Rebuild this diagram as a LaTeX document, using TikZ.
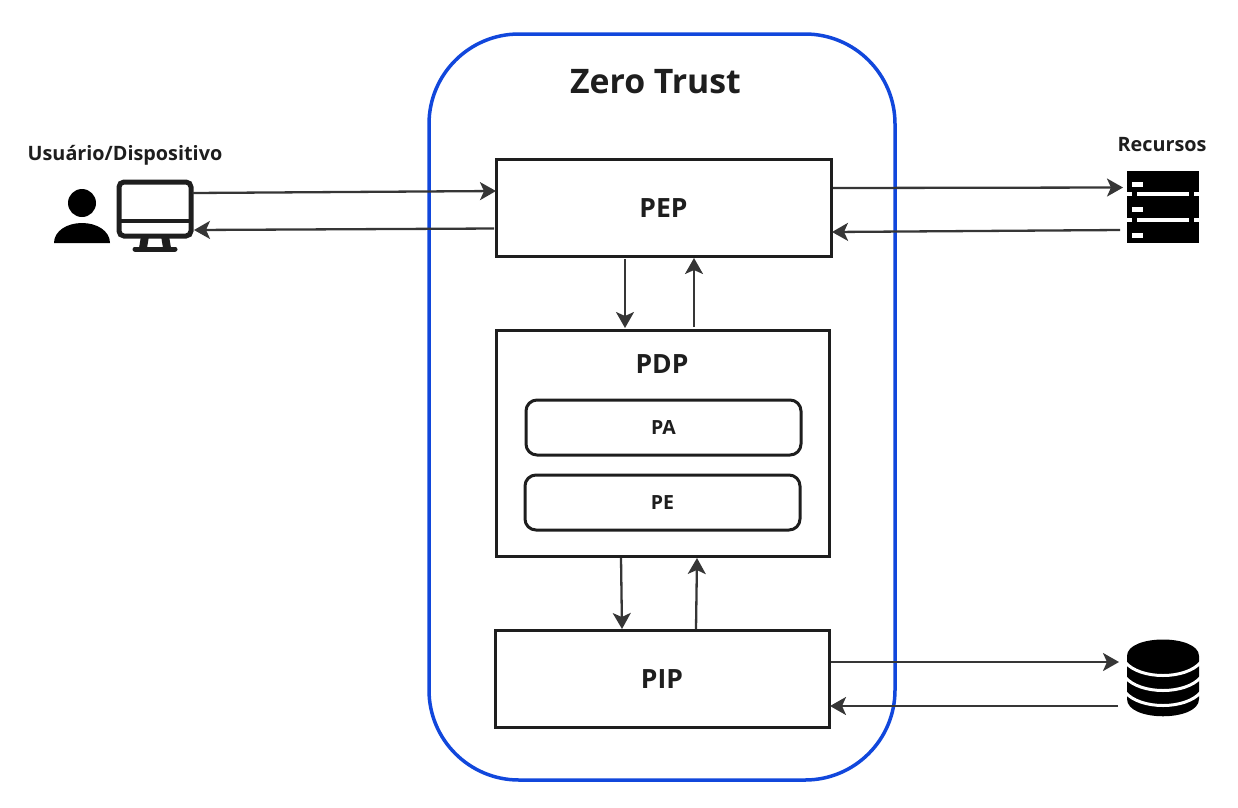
\documentclass[tikz,border=0pt]{standalone}
\usepackage{fontspec}
\setmainfont{Open Sans}
\usepackage{xcolor}
\usetikzlibrary{arrows.meta, positioning, calc}
\definecolor{ztblue}{HTML}{1147DC}
\definecolor{ztink}{HTML}{1E1E1E}
\definecolor{ztarrow}{HTML}{363636}
\tikzset{
  box/.style={draw=ztink, line width=3pt, fill=white, inner sep=0pt, outer sep=0pt, text=ztink, text height=19pt, text depth=0pt, font=\bfseries\fontsize{26.5}{30}\selectfont},
  subbox/.style={box, rounded corners=11pt, text height=14pt, font=\bfseries\fontsize{19.5}{22}\selectfont},
  label/.style={inner sep=0pt, text=ztink, font=\bfseries\fontsize{19.8}{24}\selectfont},
  flow/.style={draw=ztarrow, line width=2.3pt, -{Stealth[length=16pt,width=18pt,inset=4pt]}},
  icon/.style={inner sep=0pt, outer sep=0pt}
}
\begin{document}
\begin{tikzpicture}[x=1pt,y=-1pt]
\useasboundingbox (0,0) rectangle (1238,807);
\node[draw=ztblue, line width=3.5pt, rounded corners=90pt, minimum width=466pt, minimum height=746pt, inner sep=0pt] (zt) at (662,407) {};
\node[inner sep=0pt, text=ztink, font=\bfseries\fontsize{33.8}{40}\selectfont] (title) at (655.5,82) {Zero Trust};

\node[box, minimum width=335pt, minimum height=97pt] (pep) at (663.5,207.5) {PEP};
\node[box, minimum width=333pt, minimum height=226pt] (pdp) at (662.5,443) {};
\node[label, font=\bfseries\fontsize{26.5}{30}\selectfont] (pdplabel) at (662,364) {PDP};
\node[subbox, minimum width=275pt, minimum height=55pt] (pa) at (663.5,427.5) {PA};
\node[subbox, minimum width=275pt, minimum height=55pt] (pe) at (662.5,502.5) {PE};
\node[box, minimum width=334pt, minimum height=97pt] (pip) at (662,678.5) {PIP};

% user and screen
\node[label] (userlabel) at (125,155) {Usuário/Dispositivo};
\node[icon, circle, fill=black, minimum size=28pt] (userhead) at (82,203) {};
\fill[black] (54,243) .. controls (54,231) and (67,223) .. (82,223) .. controls (97,223) and (110,231) .. (110,243) -- cycle;
\node[icon, draw=ztink, line width=5pt, rounded corners=5pt, minimum width=72pt, minimum height=54pt] (screen) at (155,209) {};
\draw[ztink, line width=4.5pt] (118,221) -- (192,221);
\fill[ztink] (141,236) -- (149,236) -- (147,248) -- (139,248) -- cycle;
\fill[ztink] (161,236) -- (169,236) -- (171,248) -- (163,248) -- cycle;
\draw[ztink, line width=5pt, line cap=round] (135,249) -- (175,249);

% resources
\node[label] (reslabel) at (1162,145) {Recursos};
\node[icon, fill=black, minimum width=72pt, minimum height=72pt] (rack) at (1163,207) {};
\foreach \gapy in {194,220} {
  \fill[white] (1127,\gapy-2) rectangle (1132,\gapy+2);
  \fill[white] (1137,\gapy-2) rectangle (1189,\gapy+2);
  \fill[white] (1194,\gapy-2) rectangle (1199,\gapy+2);
}
\foreach \ledy in {184,209,235} {
  \fill[white] (1132,\ledy-2.5) rectangle (1143,\ledy+2.5);
}

% database
\node[icon, minimum width=72pt, minimum height=77pt] (db) at (1163,677.5) {};
\fill[black] (1127,656) .. controls (1127,634) and (1199,634) .. (1199,656) -- (1199,699) .. controls (1199,722) and (1127,722) .. (1127,699) -- cycle;
\foreach \bandy in {662,677,692} {
  \draw[white, line width=3pt] (1125,\bandy) .. controls (1140,\bandy+18) and (1186,\bandy+18) .. (1201,\bandy);
}

\draw[flow] ([yshift=16pt]screen.east) ++(1.5,0) -- ([yshift=16.5pt]pep.west);
\draw[flow] ([yshift=-21pt]pep.west) ++(-2,0) -- ([yshift=-21pt,xshift=3pt]screen.east);
\draw[flow] ([yshift=19.5pt,xshift=2pt]pep.east) -- ([yshift=19.5pt,xshift=-4pt]rack.west);
\draw[flow] ([yshift=-23pt,xshift=-7pt]rack.west) -- ([yshift=-24.5pt,xshift=1pt]pep.east);

\draw[flow] ([xshift=-38.5pt,yshift=-3pt]pep.south) -- ([xshift=-37.5pt,yshift=2pt]pdp.north);
\draw[flow] ([xshift=31.5pt,yshift=3pt]pdp.north) -- ([xshift=30.5pt,yshift=-2pt]pep.south);
\draw[flow] ([xshift=-41.5pt,yshift=-2pt]pdp.south) -- ([xshift=-40pt,yshift=1pt]pip.north);
\draw[flow] ([xshift=34pt,yshift=1pt]pip.north) -- ([xshift=34.5pt,yshift=-2pt]pdp.south);

\draw[flow] ([yshift=16.5pt,xshift=2pt]pip.east) -- ([yshift=15.5pt,xshift=-8pt]db.west);
\draw[flow] ([yshift=-28.5pt,xshift=-9pt]db.west) -- ([yshift=-27.5pt,xshift=1pt]pip.east);
\end{tikzpicture}
\end{document}
